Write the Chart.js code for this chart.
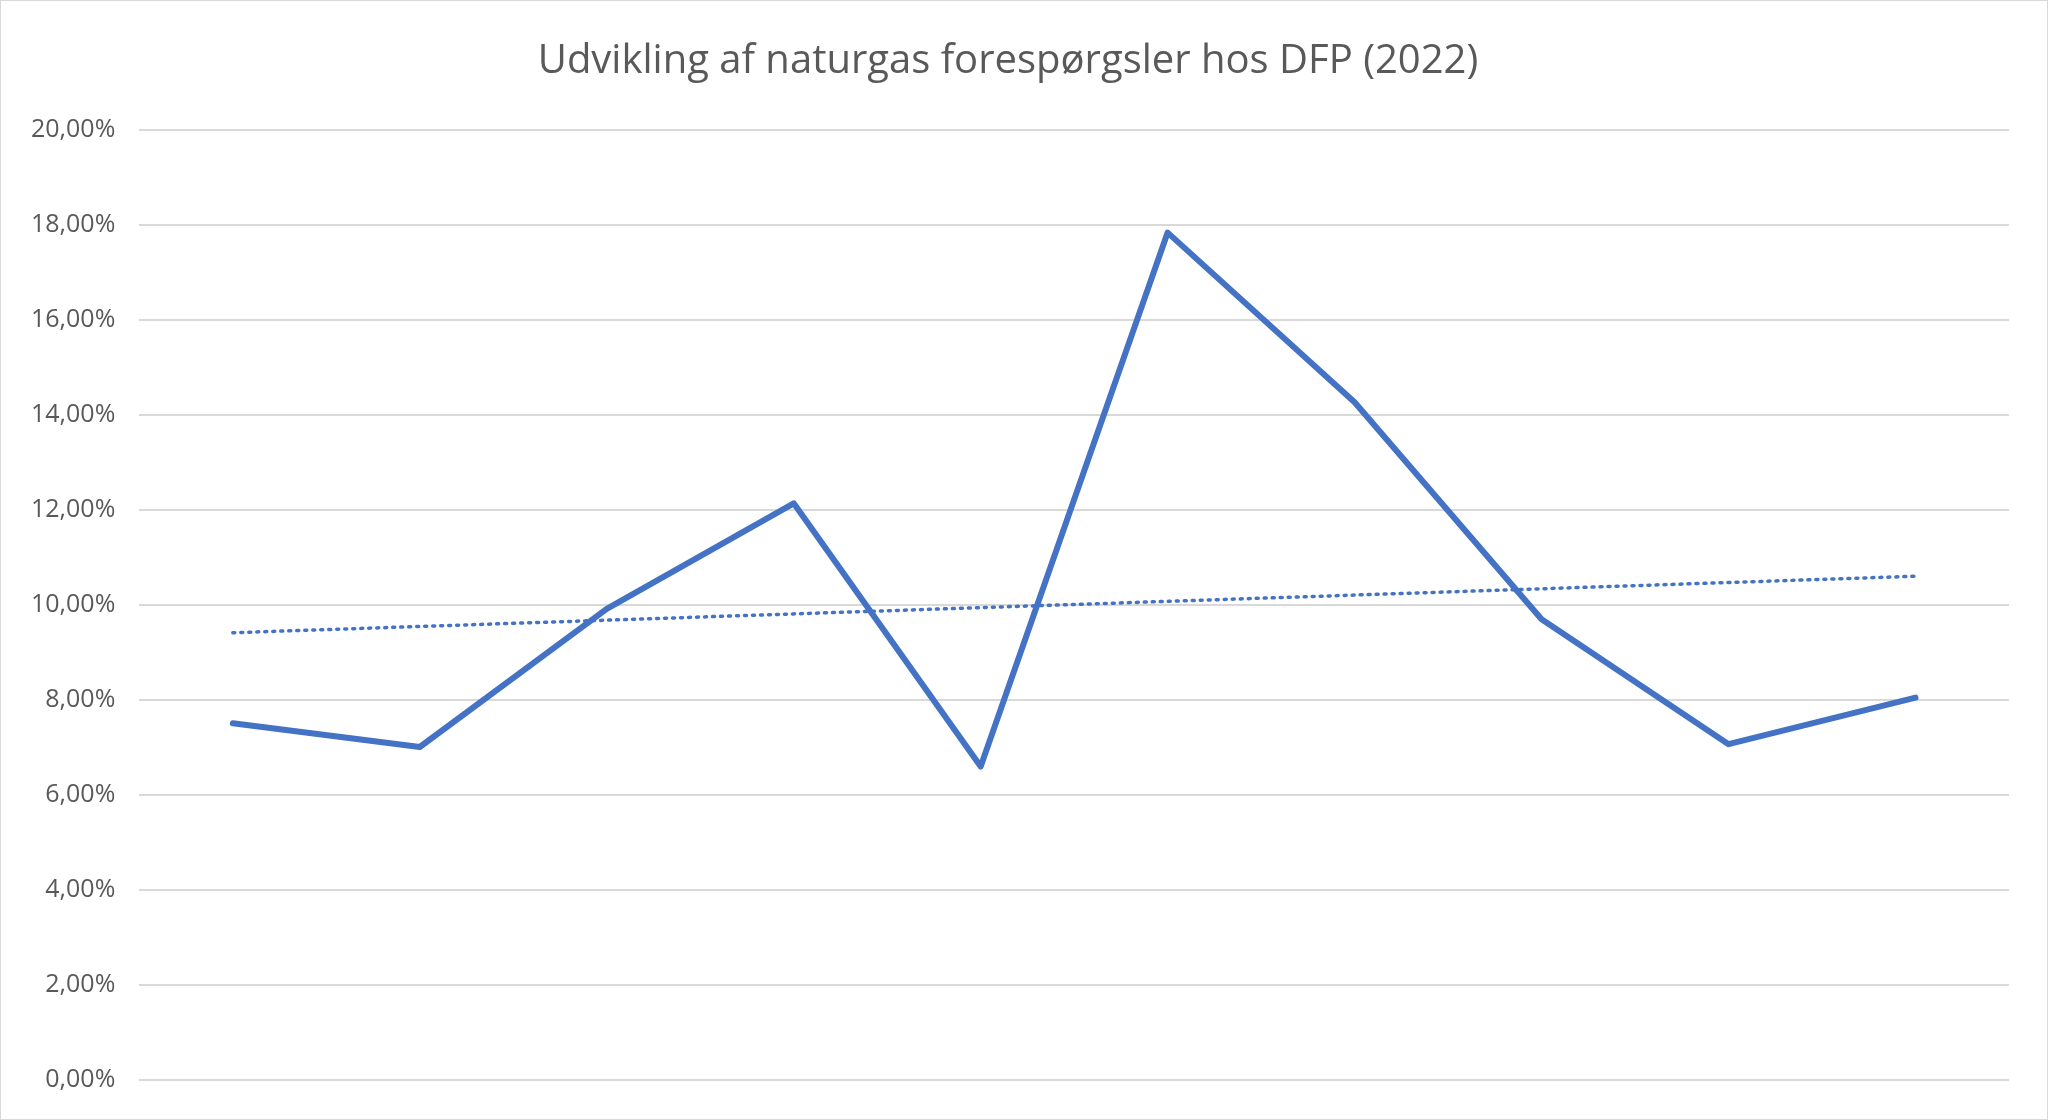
<!DOCTYPE html>
<html><head><meta charset="utf-8">
<script src="https://cdn.jsdelivr.net/npm/chart.js@4"></script>
<style>html,body{margin:0;padding:0;background:#fff}#w{width:2046px;height:1118px;border:1px solid #d9d9d9;position:relative}</style>
</head><body><div id="w"><canvas id="c"></canvas></div>
<script>
const categories = ["1","2","3","4","5","6","7","8","9","10"];
const values = [7.51, 7.01, 9.92, 12.14, 6.60, 17.84, 14.27, 9.70, 7.07, 8.05];
const yTicks = [0,2,4,6,8,10,12,14,16,18,20];
// linear trendline (least squares), as in the original spreadsheet
const n = values.length, mx = (n-1)/2, my = values.reduce((a,b)=>a+b,0)/n;
let sxy=0,sxx=0; values.forEach((v,i)=>{sxy+=(i-mx)*(v-my);sxx+=(i-mx)**2;});
const slope=sxy/sxx, trend=values.map((v,i)=>my+slope*(i-mx));
new Chart(document.getElementById('c'),{
 type:'line',
 data:{labels:categories,datasets:[
  {data:values,borderColor:'#4472c4',borderWidth:6,pointRadius:0,tension:0,borderCapStyle:'round',borderJoinStyle:'round'},
  {data:trend,borderColor:'#4472c4',borderWidth:3.5,borderDash:[2,6],borderCapStyle:'round',pointRadius:0,tension:0}
 ]},
 options:{responsive:true,maintainAspectRatio:false,animation:false,
  layout:{padding:{left:6,right:38,top:10,bottom:29}},
  plugins:{legend:{display:false},tooltip:{enabled:false},
   title:{display:true,text:'Udvikling af naturgas forespørgsler hos DFP (2022)',color:'#595959',font:{family:'Open Sans',size:40,weight:'normal'},padding:{top:27,bottom:44}}},
  scales:{
   x:{offset:true,grid:{display:false},border:{display:false},ticks:{display:false}},
   y:{min:0,max:20,afterBuildTicks:a=>{a.ticks=yTicks.map(v=>({value:v}));},
      grid:{color:'#d9d9d9',lineWidth:2,drawTicks:false},border:{display:false},
      ticks:{padding:24,color:'#595959',font:{family:'Open Sans',size:25},callback:v=>v.toFixed(2).replace('.',',')+'%'}}
  }}
});
</script></body></html>
